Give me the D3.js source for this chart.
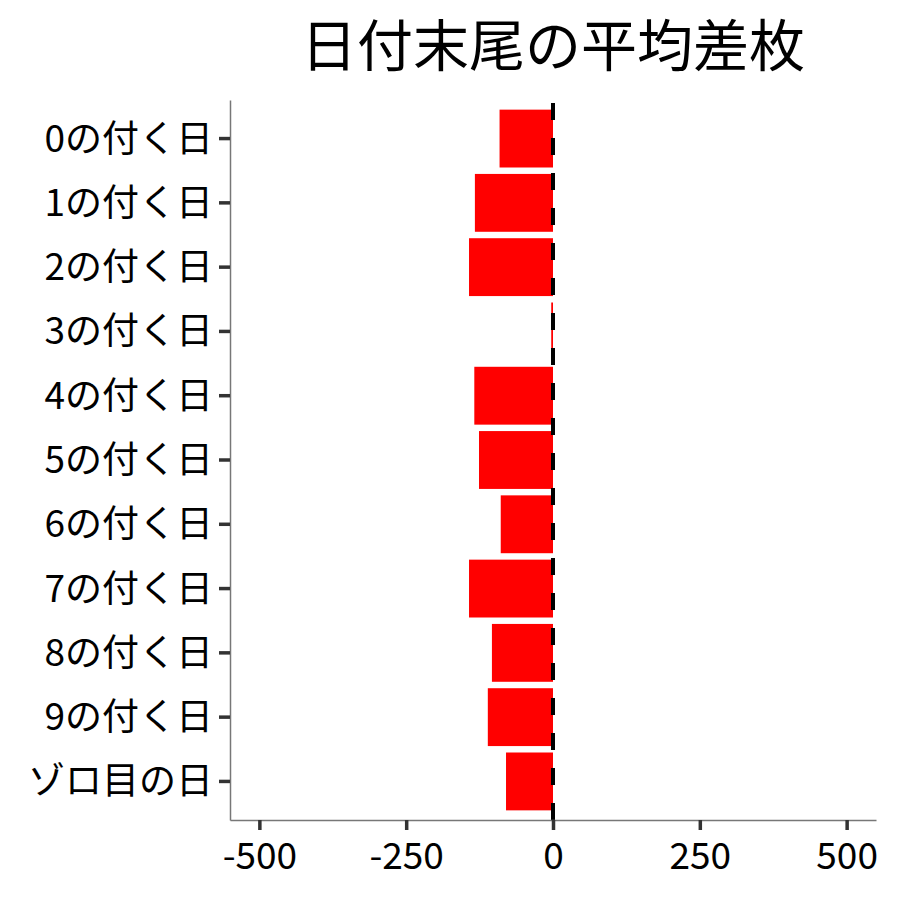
<!DOCTYPE html>
<html>
<head>
<meta charset="utf-8">
<script src="https://cdn.jsdelivr.net/npm/d3@7"></script>
<style>
  body { margin: 0; background: #fff; }
  svg text { font-family: "Noto Sans CJK JP", "Noto Sans", sans-serif; }
</style>
</head>
<body>
<svg id="chart" width="900" height="900"></svg>
<script>
const categories = ["0の付く日", "1の付く日", "2の付く日", "3の付く日", "4の付く日",
  "5の付く日", "6の付く日", "7の付く日", "8の付く日", "9の付く日", "ゾロ目の日"];
const diffs = [-91, -133, -143, -3, -134, -126, -89, -143, -104, -111, -80];
const xTicks = [-500, -250, 0, 250, 500];
const title = "日付末尾の平均差枚";

const margin = { top: 100, right: 24, bottom: 80, left: 230 };
const width = 900 - margin.left - margin.right;
const height = 900 - margin.top - margin.bottom;

const svg = d3.select("#chart");
const g = svg.append("g")
  .attr("transform", `translate(${margin.left},${margin.top})`);

const x = d3.scaleLinear()
  .domain([-550, 550])
  .range([0, width]);

// ggplot style discrete axis: centres 0.6 step from the ends, bars 0.9 wide
const y = d3.scaleBand()
  .domain(categories)
  .range([0, height])
  .paddingInner(0.1)
  .paddingOuter(0.15);

g.selectAll("rect.bar")
  .data(categories)
  .enter().append("rect")
    .attr("class", "bar")
    .attr("x", (d, i) => x(Math.min(0, diffs[i])))
    .attr("width", (d, i) => Math.abs(x(diffs[i]) - x(0)))
    .attr("y", d => y(d))
    .attr("height", y.bandwidth())
    .attr("fill", "#ff0000");

// dashed zero line, drawn bottom to top
g.append("line")
  .attr("x1", x(0)).attr("x2", x(0))
  .attr("y1", height).attr("y2", 0)
  .attr("stroke", "#000")
  .attr("stroke-width", 4)
  .attr("stroke-dasharray", "17,18");

const xAxis = g.append("g")
  .attr("transform", `translate(0,${height})`)
  .call(d3.axisBottom(x).tickValues(xTicks).tickSize(10).tickSizeOuter(0).tickPadding(6)
    .tickFormat(d => String(d)));

const yAxis = g.append("g")
  .call(d3.axisLeft(y).tickSize(11).tickSizeOuter(0).tickPadding(6));

[xAxis, yAxis].forEach(ax => {
  ax.select(".domain").attr("stroke", "#777").attr("stroke-width", 1.5);
  ax.selectAll(".tick line").attr("stroke", "#333").attr("stroke-width", 3.5);
  ax.selectAll(".tick text").attr("fill", "#000");
});
xAxis.selectAll(".tick text").attr("dy", "0.88em").style("font-size", "37px");
yAxis.selectAll(".tick text").attr("dy", "0.35em").style("font-size", "37px");

svg.append("text")
  .attr("x", margin.left + width / 2)
  .attr("y", 66)
  .attr("text-anchor", "middle")
  .attr("fill", "#000")
  .style("font-size", "56px")
  .text(title);
</script>
</body>
</html>
